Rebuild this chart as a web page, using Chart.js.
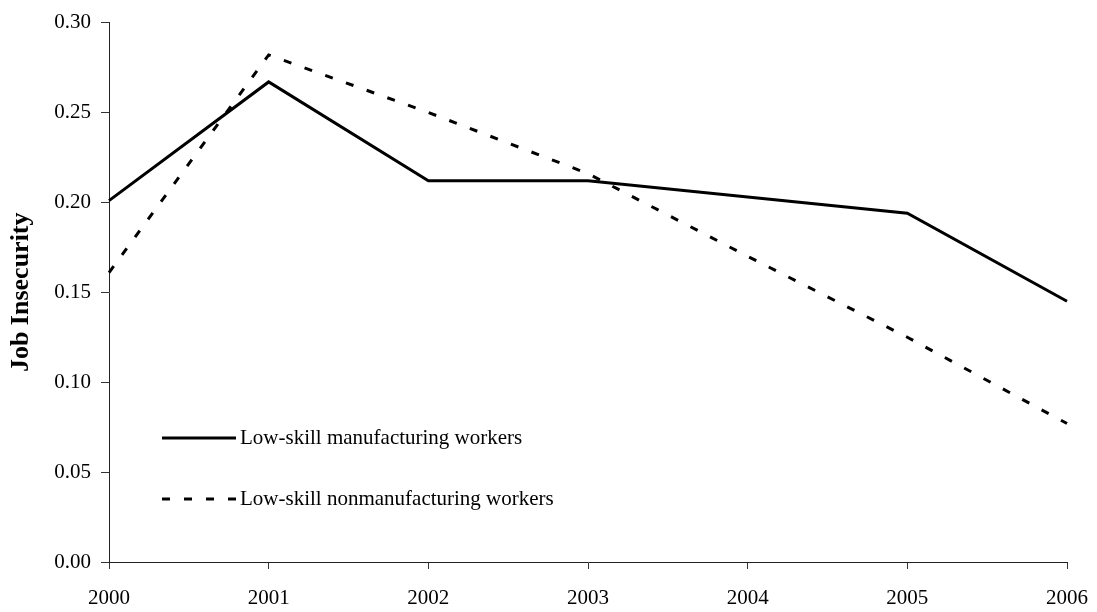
<!DOCTYPE html>
<html>
<head>
<meta charset="utf-8">
<script src="https://cdn.jsdelivr.net/npm/chart.js@4/dist/chart.umd.min.js"></script>
<style>
  html, body { margin: 0; padding: 0; background: #fff; }
  canvas { display: block; }
</style>
</head>
<body>
<canvas id="chartCanvas" width="1097" height="612"></canvas>
<script>
// --- data ---
const years = ["2000", "2001", "2002", "2003", "2004", "2005", "2006"];
const manufacturing = [0.201, 0.267, 0.212, 0.212, 0.203, 0.194, 0.145];
const nonmanufacturing = [0.161, 0.282, 0.250, 0.216, 0.170, 0.125, 0.077];
const seriesNames = ["Low-skill manufacturing workers", "Low-skill nonmanufacturing workers"];
const yTickLabels = ["0.00", "0.05", "0.10", "0.15", "0.20", "0.25", "0.30"];
const yTitle = "Job Insecurity";

const serif = "'Liberation Serif', 'Times New Roman', serif";
const dashPattern = [8, 14];

// legend sits inside the plot, lower left
const legendInside = {
  id: "legendInside",
  afterDraw(chart) {
    const ctx = chart.ctx;
    const rows = [438, 499];
    ctx.save();
    chart.data.datasets.forEach((ds, i) => {
      const y = rows[i];
      ctx.strokeStyle = ds.borderColor;
      ctx.lineWidth = ds.borderWidth;
      ctx.setLineDash(ds.borderDash || []);
      ctx.beginPath();
      ctx.moveTo(162, y);
      ctx.lineTo(236, y);
      ctx.stroke();
      ctx.setLineDash([]);
      ctx.fillStyle = "#000";
      ctx.font = "21px " + serif;
      ctx.textBaseline = "middle";
      ctx.textAlign = "left";
      ctx.fillText(ds.label, 240, y);
    });
    ctx.restore();
  }
};

const canvas = document.getElementById("chartCanvas");

new Chart(canvas, {
  type: "line",
  data: {
    labels: years,
    datasets: [
      {
        label: seriesNames[0],
        data: manufacturing,
        borderColor: "#000",
        borderWidth: 3,
        pointRadius: 0,
        tension: 0,
        fill: false
      },
      {
        label: seriesNames[1],
        data: nonmanufacturing,
        borderColor: "#000",
        borderWidth: 3,
        borderDash: dashPattern,
        pointRadius: 0,
        tension: 0,
        fill: false
      }
    ]
  },
  options: {
    responsive: false,
    animation: false,
    layout: { padding: { top: 19, right: 30, left: 0, bottom: 0 } },
    plugins: {
      legend: { display: false },
      tooltip: { enabled: false }
    },
    scales: {
      x: {
        offset: false,
        grid: { drawOnChartArea: false, drawTicks: true, tickLength: 7, color: "#333" },
        border: { display: true, color: "#222", width: 1 },
        ticks: { color: "#000", padding: 17, maxRotation: 0, autoSkip: false, font: { family: serif, size: 21 } },
        afterFit(scale) {
          scale.height = 50;
          // let the last year label hang into the right margin
          scale.paddingLeft = 0;
          scale.paddingRight = 0;
        }
      },
      y: {
        min: 0,
        max: 0.3,
        grid: { drawOnChartArea: false, drawTicks: true, tickLength: 8, color: "#333" },
        border: { display: true, color: "#222", width: 1 },
        ticks: {
          stepSize: 0.05,
          color: "#000",
          padding: 10,
          font: { family: serif, size: 21 },
          callback: (v, i) => yTickLabels[i]
        },
        title: {
          display: true,
          text: yTitle,
          color: "#000",
          padding: { top: 6, bottom: 0 },
          font: { family: serif, size: 26, weight: "bold" }
        },
        afterFit(scale) { scale.width = 109; }
      }
    }
  },
  plugins: [legendInside]
});
</script>
</body>
</html>
